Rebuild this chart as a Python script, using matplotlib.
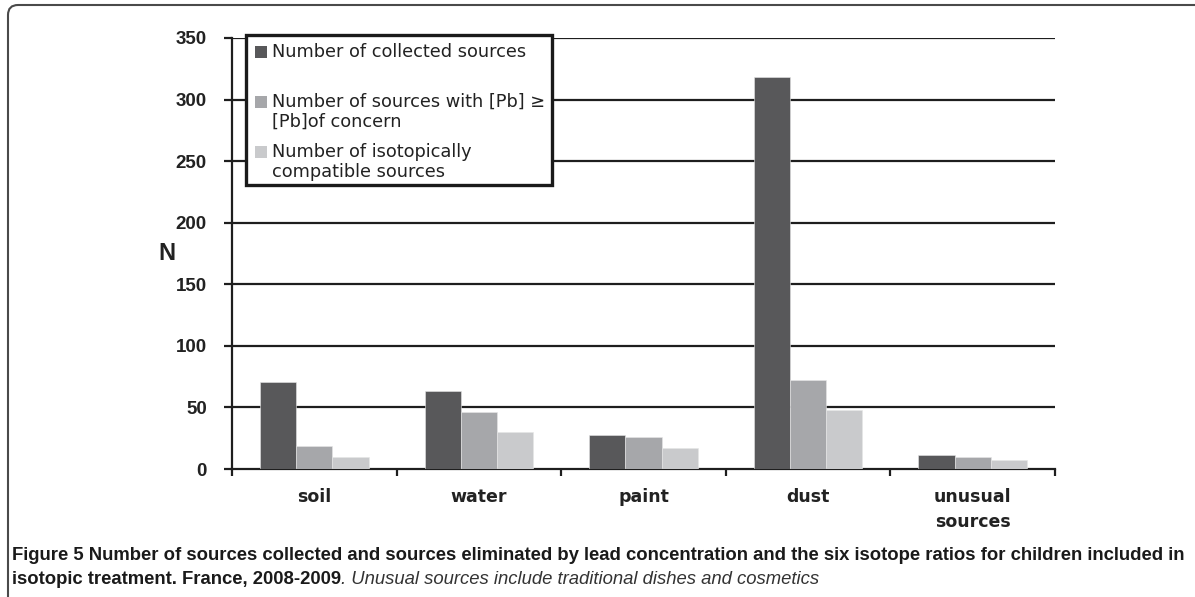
import numpy as np
import matplotlib
matplotlib.use('Agg')
import matplotlib.pyplot as plt
from matplotlib.patches import Rectangle, FancyBboxPatch
from matplotlib.transforms import IdentityTransform

# data
categories = ['soil', 'water', 'paint', 'dust', 'unusual\nsources']
collected = [71, 63, 28, 318, 11]
above_concern = [19, 46, 26, 72, 10]
compatible = [10, 30, 17, 48, 7]
series_labels = ['Number of collected sources',
                 'Number of sources with [Pb] \u2265\n[Pb]of concern',
                 'Number of isotopically\ncompatible sources']
colors = ['#58585a', '#a6a7aa', '#c9cacc']
yticks = [0, 50, 100, 150, 200, 250, 300, 350]

W, H = 1195, 597
fig = plt.figure(figsize=(W / 100, H / 100), dpi=100)
ax = fig.add_axes([232 / W, 1 - 469 / H, (1055 - 232) / W, (469 - 38) / H])

x = np.arange(len(categories))
bw = 0.22
for i, vals in enumerate([collected, above_concern, compatible]):
    ax.bar(x + (i - 1) * bw, vals, bw, color=colors[i], edgecolor='#e6e6e6',
           linewidth=0.4, zorder=3)

ax.set_xlim(-0.5, len(categories) - 0.5)
ax.set_ylim(0, 350)
ax.set_yticks(yticks)
ax.set_yticklabels([str(v) for v in yticks], fontfamily='Liberation Sans',
                   fontweight='bold', fontsize=13.5, color='#222222')
for v in yticks[1:]:
    ax.axhline(v, color='#1e1e1e', lw=1.6, zorder=1)

ax.set_xticks(x)
ax.set_xticklabels(categories, fontfamily='DejaVu Sans', fontweight='bold',
                   fontsize=12.5, color='#222222', linespacing=1.45)
ax.set_xticks(np.arange(-0.5, len(categories)), minor=True)
ax.tick_params(axis='x', which='major', length=0, pad=14)
ax.tick_params(axis='x', which='minor', length=5, width=1.6, color='#1e1e1e',
               direction='out')
ax.tick_params(axis='y', length=6, width=1.6, color='#1e1e1e', pad=12)

for s in ['top', 'right']:
    ax.spines[s].set_visible(False)
ax.spines['left'].set_linewidth(1.6)
ax.spines['left'].set_color('#1e1e1e')
ax.spines['bottom'].set_linewidth(1.6)
ax.spines['bottom'].set_color('#1e1e1e')
ax.set_ylabel('N', rotation=0, fontfamily='Liberation Sans', fontweight='bold',
              fontsize=17, color='#222222', va='center', ha='center')
ax.yaxis.set_label_coords(-0.079, 0.501)

# legend box (drawn by hand so the markers sit on the first text line)
fig.patches.append(Rectangle((246 / W, 1 - 185 / H), (552 - 246) / W, (185 - 35) / H,
                             transform=fig.transFigure, facecolor='white',
                             edgecolor='#1a1a1a', linewidth=2.4, zorder=5))
entry_y = [52, 102, 152]
for lab, c, yy in zip(series_labels, colors, entry_y):
    fig.patches.append(Rectangle((255 / W, 1 - (yy + 6) / H), 12 / W, 12 / H,
                                 transform=fig.transFigure, facecolor=c,
                                 edgecolor='none', zorder=6))
    fig.text(272 / W, 1 - (yy - 9) / H, lab, ha='left', va='top',
             fontfamily='DejaVu Sans', fontsize=12.8, color='#222222',
             linespacing=1.15, zorder=7)

# outer rounded frame of the figure panel
fig.patches.append(FancyBboxPatch((8, -30), 1300, 622, transform=IdentityTransform(),
                                  boxstyle='round,pad=0,rounding_size=10',
                                  facecolor='none', edgecolor='#4a4a4a', lw=1.5))

# caption
cap1 = ('Figure 5 Number of sources collected and sources eliminated by lead '
        'concentration and the six isotope ratios for children included in')
cap2a = 'isotopic treatment. France, 2008-2009'
cap2b = '. Unusual sources include traditional dishes and cosmetics'
renderer = fig.canvas.get_renderer()
t1 = fig.text(12 / W, 1 - 555 / H, cap1, ha='left', va='center',
              fontfamily='Liberation Sans', fontweight='bold', fontsize=12,
              color='#1a1a1a')
wpx = t1.get_window_extent(renderer).width
t1.set_fontsize(12 * (1173 / wpx))
fs = t1.get_fontsize()
t2 = fig.text(12 / W, 1 - 580 / H, cap2a, ha='left', va='center',
              fontfamily='Liberation Sans', fontweight='bold', fontsize=fs,
              color='#1a1a1a')
ext = t2.get_window_extent(renderer)
fig.text(ext.x1 / W, 1 - 580 / H, cap2b, ha='left', va='center',
         fontfamily='Liberation Sans', style='italic', fontsize=fs, color='#333333')

fig.savefig('out.png', dpi=100)
